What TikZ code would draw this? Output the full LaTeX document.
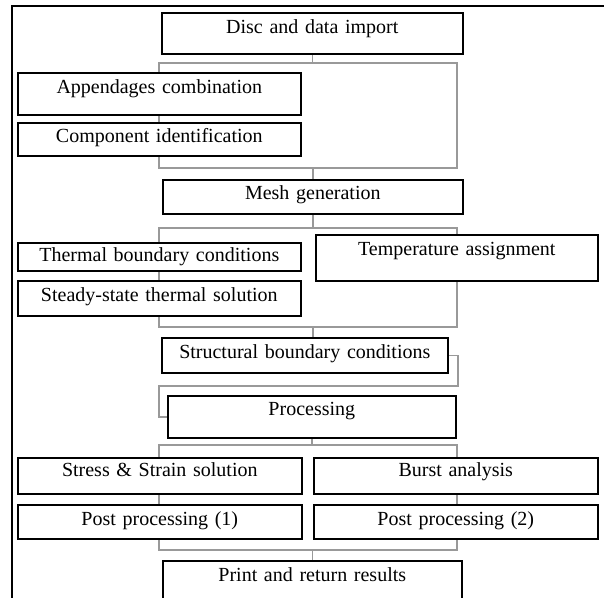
\documentclass[tikz,border=0pt]{standalone}
\usepackage{fontspec}
\setmainfont{Liberation Serif}
\usetikzlibrary{backgrounds}
\tikzset{
  box/.style={draw, line width=1.6pt, fill=white, inner sep=0pt, align=center, anchor=north west},
  link/.style={draw=gray!80, line width=1.5pt},
  frame/.style={line width=2pt}
}
\begin{document}
\begin{tikzpicture}[x=1pt,y=-1pt,font=\fontsize{20}{24}\selectfont]
\useasboundingbox (0,0) rectangle (604,597);
\draw[frame] (12,600) -- (12,6) -- (605,6);

\node[box, text width=301pt, text height=21pt, text depth=20pt] (disc) at (161,12) {Disc and data import};
\node[box, text width=283pt, text height=21pt, text depth=21pt] (app) at (17,72) {Appendages combination};
\node[box, text width=283pt, text height=20pt, text depth=13pt] (comp) at (17,122) {Component identification};
\node[box, text width=300pt, text height=20pt, text depth=14pt] (mesh) at (162,179) {Mesh generation};
\node[box, text width=283pt, text height=19pt, text depth=9pt] (therm) at (17,242) {Thermal boundary conditions};
\node[box, text width=282pt, text height=21pt, text depth=25pt] (temp) at (315,234) {Temperature assignment};
\node[box, text width=283pt, text height=21pt, text depth=14pt] (steady) at (17,280) {Steady-state thermal solution};
\node[box, text width=286pt, text height=21pt, text depth=14pt] (struct) at (161,337) {Structural boundary conditions};
\node[box, text width=288pt, text height=20pt, text depth=22pt] (proc) at (167,395) {Processing};
\node[box, text width=284pt, text height=19pt, text depth=17pt] (stress) at (17,457) {Stress \& Strain solution};
\node[box, text width=284pt, text height=19pt, text depth=17pt] (burst) at (313,457) {Burst analysis};
\node[box, text width=284pt, text height=21pt, text depth=13pt] (post1) at (17,504) {Post processing (1)};
\node[box, text width=284pt, text height=21pt, text depth=13pt] (post2) at (313,504) {Post processing (2)};
\node[box, text width=299pt, text height=21pt, text depth=30pt] (print) at (162,560) {Print and return results};

\begin{pgfonlayer}{background}
% import -> appendages / component -> mesh
\coordinate (g1a) at (159,63);
\coordinate (g1b) at (457,168);
\draw[link] (disc.south) -- (disc.south |- g1a);
\draw[link] (g1a) rectangle (g1b);
\draw[link] (mesh.north |- g1b) -- (mesh.north);
% mesh -> thermal / temperature -> structural
\coordinate (g2a) at (159,228);
\coordinate (g2b) at (457,327);
\draw[link] (mesh.south) -- (mesh.south |- g2a);
\draw[link] (g2a) rectangle (g2b);
\draw[link] (mesh.south |- g2b) -- (mesh.south |- struct.north);
% structural -> processing
\coordinate (g3) at (458,386);
\draw[link] (struct.east) -| (g3) -- (g3 -| g1a) |- (proc.west);
% processing -> solutions -> results
\coordinate (g4a) at (159,445);
\coordinate (g4b) at (457,550);
\draw[link] (proc.south) -- (proc.south |- g4a);
\draw[link] (g4a) rectangle (g4b);
\draw[link] (print.north |- g4b) -- (print.north);
\end{pgfonlayer}
\end{tikzpicture}
\end{document}
